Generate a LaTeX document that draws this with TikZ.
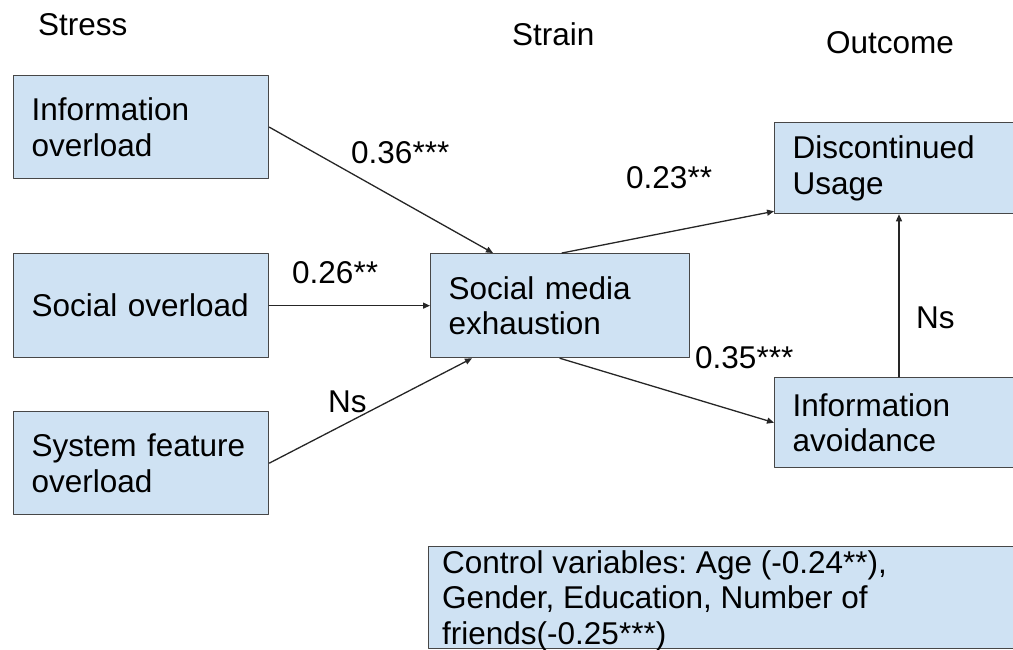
\documentclass[tikz,border=0pt]{standalone}
\usepackage{fontspec}
\setmainfont{Liberation Sans}
\usetikzlibrary{arrows.meta,positioning}
\definecolor{boxfill}{HTML}{CFE2F3}
\definecolor{boxline}{HTML}{474747}
\frenchspacing

\begin{document}
\begin{tikzpicture}[
		x=1pt,
		y=-1pt,
		line cap=round,
		line join=round,
		>={Triangle[length=7pt,width=6pt]},
		txt/.style={font=\fontsize{31.5}{35.5}\selectfont, inner sep=0pt},
		box/.style={txt, rectangle, draw=boxline, fill=boxfill, line width=1.3pt,
			align=left, inner xsep=18pt, anchor=north west},
		link/.style={->, line width=1.3pt, draw=black!85}
		]
		
		\useasboundingbox (0,0) rectangle (1013,650);
		\clip (0,0) rectangle (1013,650);
		
		%------------------------------------------------------------------
		% Column heads
		%------------------------------------------------------------------
		\node[txt, anchor=base west] (stress)  at ( 38, 36) {Stress};
		\node[txt, anchor=base west] (strain)  at (512, 46) {Strain};
		\node[txt, anchor=base west] (outcome) at (826, 54) {Outcome};
		
		%------------------------------------------------------------------
		% Boxes
		%------------------------------------------------------------------
		\node[box, minimum width=255pt, minimum height=103pt, text width=219pt]
		(io)  at ( 13, 75) {Information\\overload};
		\node[box, minimum width=255pt, minimum height=104pt, text width=219pt]
		(so)  at ( 13,253) {Social overload};
		\node[box, minimum width=255pt, minimum height=103pt, text width=219pt]
		(sfo) at ( 13,411) {System feature\\overload};
		
		\node[box, minimum width=259pt, minimum height=104pt, text width=223pt]
		(sme) at (430,253) {Social media\\exhaustion};
		
		\node[box, minimum width=300pt, minimum height=91pt, text width=264pt]
		(du)  at (774,122) {Discontinued\\Usage};
		\node[box, minimum width=300pt, minimum height=90pt, text width=264pt]
		(ia)  at (774,377) {Information\\avoidance};
		
		% control variables: text sits at the top of the box
		\node[box, minimum width=660pt, minimum height=102pt] (ctrl) at (428,546) {};
		\node[txt, align=left, anchor=north west, below right=4pt and 14pt of ctrl.north west]
		(ctrltxt) {Control variables: Age (-0.24**),\\Gender, Education, Number of\\friends(-0.25***)};
		
		%------------------------------------------------------------------
		% Paths
		%------------------------------------------------------------------
		\draw[link] (io.east)  -- ([xshift=63pt]sme.north west);
		\draw[link] (so.east)  -- (sme.west);
		\draw[link] (sfo.east) -- ([xshift=42pt]sme.south west);
		
		\draw[link] ([xshift=132pt]sme.north west) -- ([yshift=3pt]du.south west);
		\draw[link] ([xshift=130pt]sme.south west) -- (ia.west);
		\draw[link] ([xshift=125pt]ia.north west)  -- ([xshift=125pt]du.south west);
		
		%------------------------------------------------------------------
		% Coefficients
		%------------------------------------------------------------------
		\node[txt, anchor=base west] (c36) at (351,164) {0.36***};
		\node[txt, anchor=base west] (c26) at (292,283) {0.26**};
		\node[txt, anchor=base west] (ns1) at (328,412) {Ns};
		\node[txt, anchor=base west] (c23) at (626,189) {0.23**};
		\node[txt, anchor=base west] (c35) at (695,368) {0.35***};
		\node[txt, anchor=base west] (ns2) at (916,328) {Ns};
		
	\end{tikzpicture}
\end{document}
